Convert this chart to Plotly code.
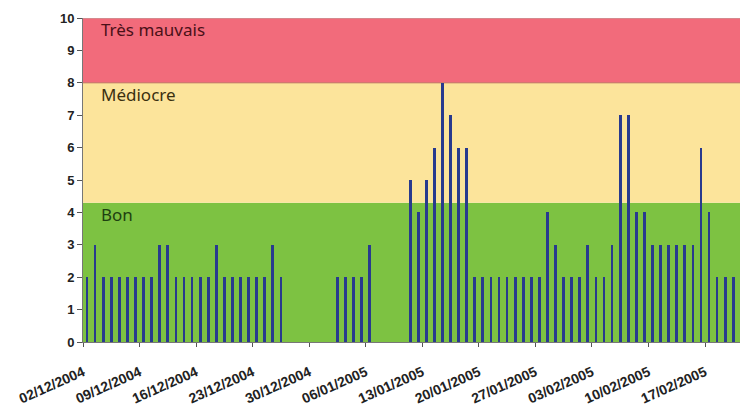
import plotly.graph_objects as go
import pandas as pd

start_date = "2004-12-02"
values = [2, 3, 2, 2, 2, 2, 2, 2, 2, 3, 3, 2, 2, 2, 2, 2, 3, 2, 2, 2, 2, 2, 2, 3, 2,
          None, None, None, None, None, None,
          2, 2, 2, 2, 3,
          None, None, None, None,
          5, 4, 5, 6, 8, 7, 6, 6,
          2, 2, 2, 2, 2, 2, 2, 2, 2,
          4, 3, 2, 2, 2, 3, 2, 2, 3, 7, 7, 4, 4, 3, 3, 3, 3, 3, 3, 6, 4, 2, 2, 2, 2]
dates = pd.date_range(start_date, periods=len(values), freq="D")

band_edges = [0, 4.3, 8, 10]
band_colors = ["#7DC242", "#FCE49B", "#F26B7B"]
band_labels = ["Bon", "Médiocre", "Très mauvais"]
label_colors = ["#1E4010", "#3A3010", "#4A1018"]

fig = go.Figure()
fig.add_trace(go.Bar(
    x=dates, y=values, xperiod=86400000, xperiodalignment="middle",
    marker=dict(color="#283A8E", line=dict(width=0)), width=0.34 * 86400000,
))

shapes = []
annotations = []
for i in range(3):
    shapes.append(dict(type="rect", xref="paper", yref="y", x0=0, x1=1,
                       y0=band_edges[i], y1=band_edges[i + 1],
                       fillcolor=band_colors[i], line=dict(width=0), layer="below"))
    annotations.append(dict(xref="paper", yref="y", x=0.025, y=band_edges[i + 1],
                            text=band_labels[i], showarrow=False, xanchor="left",
                            yanchor="top", yshift=2,
                            font=dict(family="Noto Sans", size=17, color=label_colors[i])))
shapes.append(dict(type="line", xref="paper", yref="y", x0=0, x1=1, y0=8, y1=8,
                   line=dict(color="#C07060", width=1), layer="below"))
shapes.append(dict(type="line", xref="paper", yref="y", x0=0, x1=1, y0=10, y1=10,
                   line=dict(color="#B8A8A0", width=1), layer="below"))

fig.update_layout(
    width=740, height=406,
    margin=dict(l=83, r=0, t=18, b=64, autoexpand=False),
    plot_bgcolor="white", paper_bgcolor="white",
    showlegend=False, shapes=shapes, annotations=annotations, bargap=0,
    xaxis=dict(type="date", range=["2004-12-02", "2005-02-21 08:00"], automargin=False,
               tick0="2004-12-02", dtick=7 * 86400000, tickformat="%d/%m/%Y",
               tickangle=-24, ticks="outside", ticklen=4, tickcolor="#555",
               ticklabelstandoff=12,
               showline=True, linecolor="#777", showgrid=False,
               tickfont=dict(family="Liberation Sans", size=14, color="#222", weight="bold")),
    yaxis=dict(range=[0, 10], dtick=1, ticks="outside", ticklen=5, tickcolor="#555",
               automargin=False,
               showline=True, linecolor="#777", showgrid=False, zeroline=False,
               tickfont=dict(family="Liberation Sans", size=13, color="#222", weight="bold")),
)
fig.write_html("out.html", config={"displayModeBar": False},
               post_script="document.body.style.margin='0';document.body.style.overflow='hidden';")
